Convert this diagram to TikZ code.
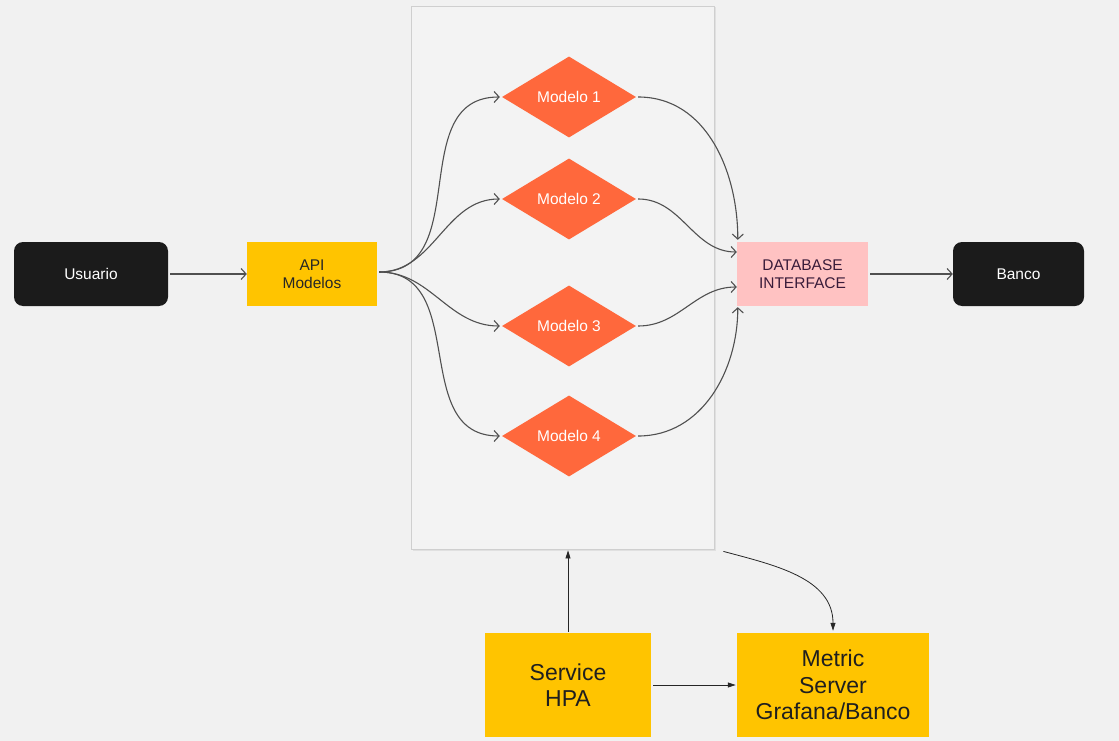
\documentclass[tikz,border=0pt]{standalone}
\usepackage{fontspec}
\setmainfont{Liberation Sans}
\usetikzlibrary{shapes.geometric,arrows.meta,shadows}
\definecolor{bg}{HTML}{F1F1F1}
\definecolor{boxgray}{HTML}{F3F3F3}
\definecolor{edgegray}{HTML}{CFCFCF}
\definecolor{ylw}{HTML}{FFC400}
\definecolor{org}{HTML}{FF683C}
\definecolor{pnk}{HTML}{FFC2C2}
\definecolor{blk}{HTML}{1B1B1B}
\definecolor{lin}{HTML}{505050}
\definecolor{dbtxt}{HTML}{3A1C3A}
\tikzset{
  every node/.style={font=\fontsize{15.5}{18}\selectfont, align=center, inner sep=0pt},
  darkbox/.style={fill=blk, text=white, rounded corners=9pt, minimum width=#1, minimum height=64pt},
  ylwbox/.style={fill=ylw, text=black!85, minimum width=#1, minimum height=64pt},
  bigbox/.style={fill=ylw, text=black!88, minimum width=#1, minimum height=104pt, font=\fontsize{23}{26.5}\selectfont},
  model/.style={diamond, fill=org, text=white, minimum width=134pt, minimum height=81pt, shape aspect=1.65},
  flow/.style={draw=lin, line width=1.1pt, -{Straight Barb[length=5pt,width=11pt,line width=1.1pt]}},
  ctrl/.style={draw=black!85, line width=0.8pt, -{Triangle[length=8pt,width=5pt]}},
}
\begin{document}
\begin{tikzpicture}[x=1pt,y=-1pt]
\useasboundingbox[fill=bg] (0,0) rectangle (1119,741);
% container
\node[draw=edgegray, fill=boxgray, line width=0.8pt, minimum width=303pt, minimum height=543pt,
      drop shadow={shadow xshift=1.5pt, shadow yshift=-1.5pt, opacity=0.15}] (cont) at (562.5,277.5) {};
% nodes
\node[darkbox=154pt] (usr) at (91,274) {Usuario};
\node[ylwbox=130pt] (api) at (312,274) {API\\Modelos};
\node[model] (m1) at (569,97) {Modelo 1};
\node[model] (m2) at (569,199) {Modelo 2};
\node[model] (m3) at (569,326) {Modelo 3};
\node[model] (m4) at (569,436) {Modelo 4};
\node[fill=pnk, text=dbtxt, minimum width=131pt, minimum height=64pt] (db) at (802.5,274) {DATABASE\\INTERFACE};
\node[darkbox=131pt] (bco) at (1018.5,274) {Banco};
\node[bigbox=166pt] (hpa) at (568,685) {Service\\HPA};
\node[bigbox=192pt] (met) at (833,685) {Metric\\Server\\Grafana/Banco};
% connectors
\draw[flow] ([xshift=2pt]usr.east) -- (api.west);
\draw[flow] ([xshift=2pt,yshift=2pt]api.east) to[out=0,in=180,looseness=1.15] ([xshift=-2pt]m1.west);
\draw[flow] ([xshift=2pt,yshift=2pt]api.east) to[out=0,in=180] ([xshift=-2pt]m2.west);
\draw[flow] ([xshift=2pt,yshift=2pt]api.east) to[out=0,in=180] ([xshift=-2pt]m3.west);
\draw[flow] ([xshift=2pt,yshift=2pt]api.east) to[out=0,in=180,looseness=1.15] ([xshift=-2pt]m4.west);
\draw[flow] ([xshift=2pt]m1.east) to[out=0,in=90] ([xshift=1pt,yshift=2pt]db.north west);
\draw[flow] ([xshift=2pt]m2.east) to[out=0,in=180] ([yshift=22pt]db.west);
\draw[flow] ([xshift=2pt]m3.east) to[out=0,in=180] ([yshift=-13pt]db.west);
\draw[flow] ([xshift=2pt]m4.east) to[out=0,in=-90] ([xshift=1pt,yshift=-1pt]db.south west);
\draw[flow] ([xshift=2pt]db.east) -- (bco.west);
\draw[ctrl] ([yshift=1pt]hpa.north) -- ([yshift=-1pt]hpa.north |- cont.south);
\draw[ctrl] ([xshift=2pt]hpa.east) -- ([xshift=-1pt]met.west);
\coordinate (cse) at ([xshift=9pt,yshift=-2pt]cont.south east);
\draw[ctrl] (cse) to[out=-15,in=90] ([yshift=2pt]met.north);
\end{tikzpicture}
\end{document}
